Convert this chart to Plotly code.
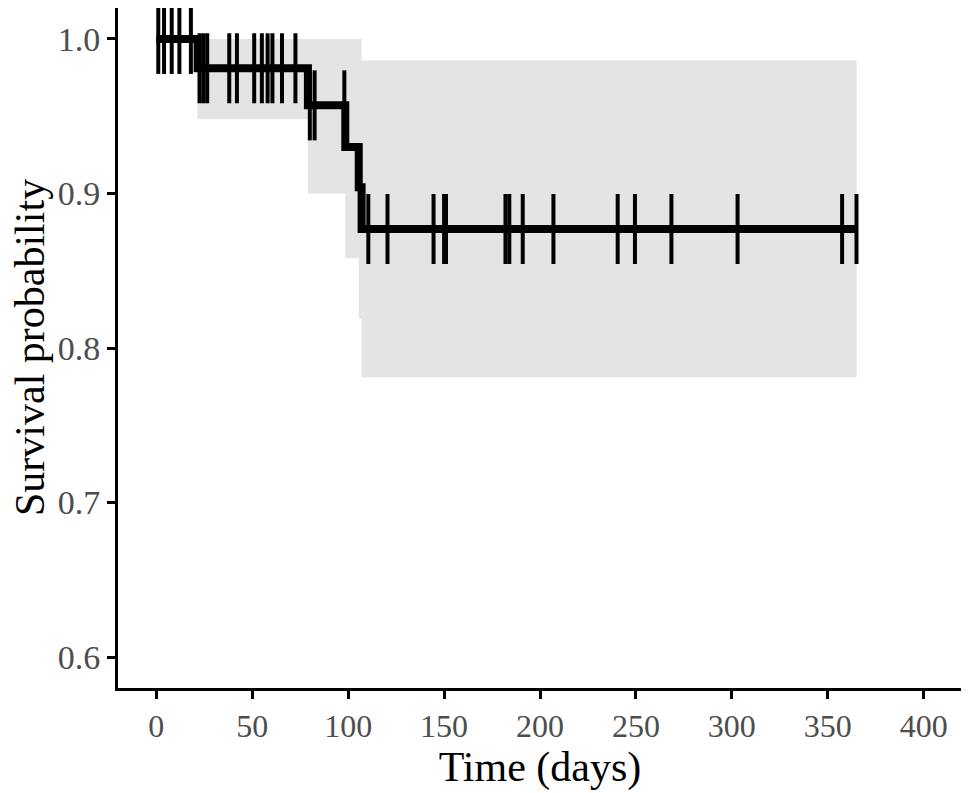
import plotly.graph_objects as go

# Kaplan-Meier estimate (step after each event time)
event_times = [0, 21.5, 79, 98.5, 105.5, 107]
surv = [1.0, 0.981, 0.957, 0.930, 0.904, 0.877]
lower = [1.0, 0.948, 0.900, 0.858, 0.819, 0.781]
upper = [1.0, 1.0, 1.0, 1.0, 1.0, 0.986]
end_time = 365

# censoring times
censor_times = [1, 4, 8, 12, 18,
                22.5, 24.5, 26.5, 38, 42, 51, 55, 58, 60.5, 65.5, 72.5,
                80, 82.5, 98,
                110.5, 120.5, 144.5, 150, 151, 182, 184, 191, 207, 240.5,
                249.5, 268.5, 303, 357.5, 365]

x_ticks = [0, 50, 100, 150, 200, 250, 300, 350, 400]
y_ticks = [0.6, 0.7, 0.8, 0.9, 1.0]


def surv_at(t):
    s = surv[0]
    for et, sv in zip(event_times, surv):
        if t >= et:
            s = sv
    return s


xs = event_times + [end_time]
fig = go.Figure()

# confidence band
fig.add_trace(go.Scatter(x=xs, y=lower + [lower[-1]], mode='lines', line_shape='hv',
                         line=dict(width=0, color='rgba(0,0,0,0)'), showlegend=False,
                         hoverinfo='skip'))
fig.add_trace(go.Scatter(x=xs, y=upper + [upper[-1]], mode='lines', line_shape='hv',
                         line=dict(width=0, color='rgba(0,0,0,0)'), fill='tonexty',
                         fillcolor='#e4e4e4', showlegend=False, hoverinfo='skip'))

# survival curve
fig.add_trace(go.Scatter(x=xs, y=surv + [surv[-1]], mode='lines', line_shape='hv',
                         line=dict(width=8, color='black'), showlegend=False))

# censor marks
fig.add_trace(go.Scatter(x=censor_times, y=[surv_at(t) for t in censor_times],
                         mode='markers',
                         marker=dict(symbol='line-ns', size=50,
                                     line=dict(width=4, color='black')),
                         showlegend=False))

# page body adds an 8px offset, so the figure is sized to the remaining window
fig.update_layout(
    width=961, height=785,
    margin=dict(l=110, r=7, t=0, b=105),
    plot_bgcolor='white', paper_bgcolor='white',
    font=dict(family='Liberation Serif', color='black'),
)
fig.update_xaxes(
    range=[-20, 420], tickvals=x_ticks, ticktext=[str(v) for v in x_ticks],
    showgrid=False, zeroline=False, showline=True, linecolor='black', linewidth=3,
    ticks='outside', ticklen=8, tickwidth=3, tickcolor='black', automargin=False,
    tickfont=dict(size=32, color='#4d4d4d', family='Liberation Serif'),
    title=dict(text='Time (days)', font=dict(size=42, family='Liberation Serif'), standoff=4),
)
fig.update_yaxes(
    range=[0.58, 1.02], tickvals=y_ticks, ticktext=['%.1f' % v for v in y_ticks],
    showgrid=False, zeroline=False, showline=True, linecolor='black', linewidth=3,
    ticks='outside', ticklen=8, tickwidth=3, tickcolor='black', automargin=False,
    tickfont=dict(size=34, color='#4d4d4d', family='Liberation Serif'),
)

# y title as an annotation so it can sit closer to the page edge
fig.add_annotation(
    text='Survival probability', textangle=-90,
    xref='paper', yref='paper', x=0, y=0.5, xshift=-88,
    xanchor='center', yanchor='middle', showarrow=False,
    font=dict(size=42, family='Liberation Serif', color='black'),
)

fig.write_html("out.html")
